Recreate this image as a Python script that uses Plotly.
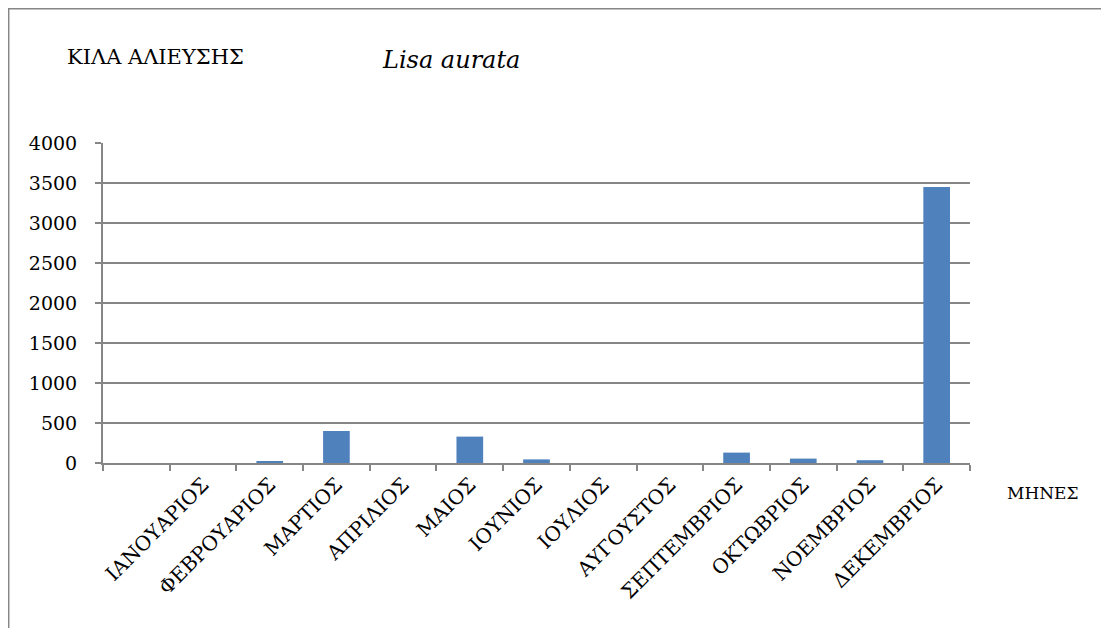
import plotly.graph_objects as go

months = ["ΙΑΝΟΥΑΡΙΟΣ", "ΦΕΒΡΟΥΑΡΙΟΣ", "ΜΑΡΤΙΟΣ", "ΑΠΡΙΛΙΟΣ", "ΜΑΙΟΣ", "ΙΟΥΝΙΟΣ",
          "ΙΟΥΛΙΟΣ", "ΑΥΓΟΥΣΤΟΣ", "ΣΕΠΤΕΜΒΡΙΟΣ", "ΟΚΤΩΒΡΙΟΣ", "ΝΟΕΜΒΡΙΟΣ", "ΔΕΚΕΜΒΡΙΟΣ"]
kilos = [0, 18, 400, 0, 330, 45, 0, 0, 130, 55, 35, 3450]
y_ticks = [0, 500, 1000, 1500, 2000, 2500, 3000, 3500, 4000]

cats = [" "] + months
vals = [None] + kilos

OFF = 8  # default body margin of the page
W, H = 1109 - OFF, 628 - OFF
L, R, T, B = 103 - OFF, 970 - OFF, 143 - OFF, 463 - OFF

def px(x):
    return (x - OFF - L) / (R - L)

def py(y):
    return (B - (y - OFF)) / (B - T)

font = "DejaVu Serif"
grid = "#868686"

fig = go.Figure(go.Bar(
    x=cats, y=vals,
    marker=dict(color="#4F81BD", line=dict(width=0)),
))

fig.update_layout(
    width=W, height=H,
    margin=dict(l=L, r=W - R, t=T, b=H - B, autoexpand=False),
    paper_bgcolor="white", plot_bgcolor="white",
    showlegend=False, bargap=0.6,
    font=dict(family=font, color="black", size=18),
    xaxis=dict(
        type="category", categoryorder="array", categoryarray=cats,
        automargin=False,
        tickson="boundaries", ticks="outside", ticklen=6, tickcolor=grid, tickwidth=2,
        showline=True, linecolor=grid, linewidth=2, showgrid=False,
        tickangle=-45, tickfont=dict(family=font, size=20, color="black"),
    ),
    yaxis=dict(
        range=[0, 4000], tickvals=y_ticks, automargin=False,
        ticks="outside", ticklen=6, tickcolor=grid, tickwidth=2,
        showline=True, linecolor=grid, linewidth=2,
        showgrid=True, gridcolor=grid, gridwidth=2, zeroline=False,
        tickfont=dict(family=font, size=19, color="black"),
        ticklabelstandoff=14,
    ),
    annotations=[
        dict(text="ΚΙΛΑ ΑΛΙΕΥΣΗΣ", x=px(155), y=py(57), xref="paper", yref="paper",
             xanchor="center", yanchor="middle", showarrow=False,
             font=dict(family=font, size=21, color="black")),
        dict(text="<i>Lisa aurata</i>", x=px(451), y=py(60), xref="paper", yref="paper",
             xanchor="center", yanchor="middle", showarrow=False,
             font=dict(family=font, size=24, color="black")),
        dict(text="ΜΗΝΕΣ", x=px(1043), y=py(493), xref="paper", yref="paper",
             xanchor="center", yanchor="middle", showarrow=False,
             font=dict(family=font, size=17, color="black")),
    ],
    shapes=[
        dict(type="rect", xref="paper", yref="paper",
             x0=px(8.7), x1=px(1130), y0=py(8.7), y1=py(660),
             line=dict(color="#868686", width=1.5), layer="below"),
    ],
)

fig.write_html("out.html")
